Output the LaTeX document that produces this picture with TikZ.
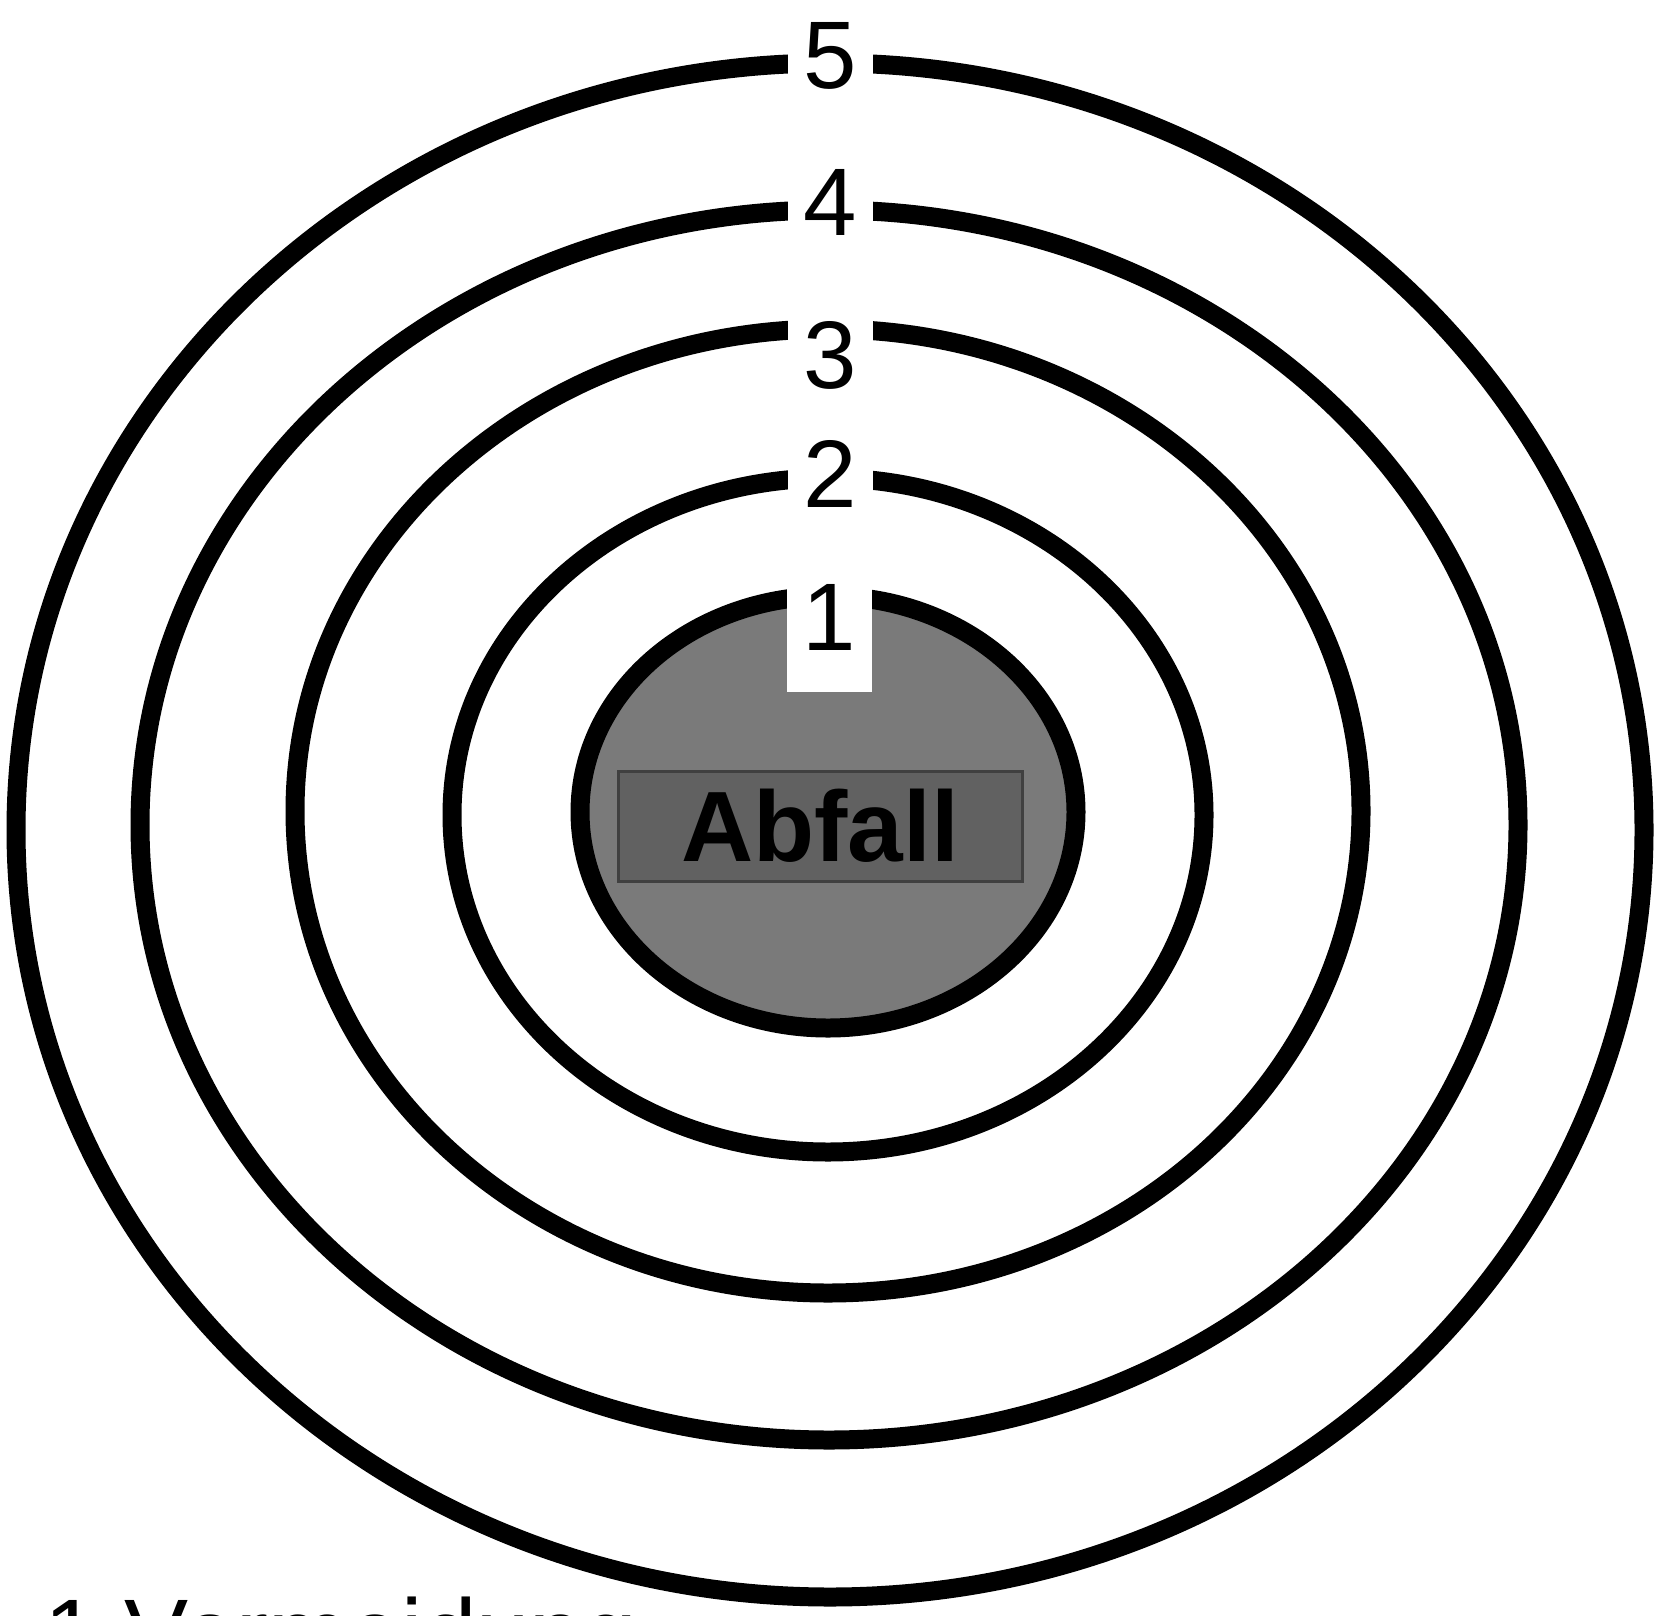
\documentclass[tikz,border=0pt]{standalone}
\usepackage{fontspec}
\setmainfont{Liberation Sans}
\usetikzlibrary{positioning}
\begin{document}
\begin{tikzpicture}[x=0.5pt,y=-0.5pt,
     ring/.style={draw=black,line width=9.5pt},
     core/.style={ring,fill=black!52},
     num/.style={fill=white,inner sep=0pt,minimum width=42.5pt,
       text height=36pt,text depth=1pt,font=\fontsize{48}{48}\selectfont},
     tag/.style={draw=black!75,line width=1.5pt,fill=black!62,
       minimum width=202pt,minimum height=55pt,inner sep=0pt,
       font=\fontsize{50}{50}\selectfont\bfseries}]
    \useasboundingbox (0,0) rectangle (1657,1615);
    \clip (0,0) rectangle (1657,1615);
    \draw[ring] (830,830) ellipse [x radius=814,y radius=767];
    \draw[ring] (829,825) ellipse [x radius=689,y radius=615];
    \draw[ring] (828,811) ellipse [x radius=533,y radius=482];
    \draw[ring] (828,815) ellipse [x radius=376,y radius=337];
    \draw[core] (828,812) ellipse [x radius=248,y radius=216];
    \node[tag] (waste) at (820,826) {Abfall};
    \node[num] (n5) at (830,54) {5};
    \node[num] (n4) at (830,201) {4};
    \node[num] (n3) at (830,353) {3};
    \node[num] (n2) at (830,472) {2};
    \node[num,anchor=north,text height=37pt,text depth=21pt] (n1) at (829,576) {1};
    \node[anchor=base west,inner sep=0pt,font=\fontsize{48}{48}\selectfont]
      (step1) at (44,1666) {1 Vermeidung};
  \end{tikzpicture}
\end{document}
